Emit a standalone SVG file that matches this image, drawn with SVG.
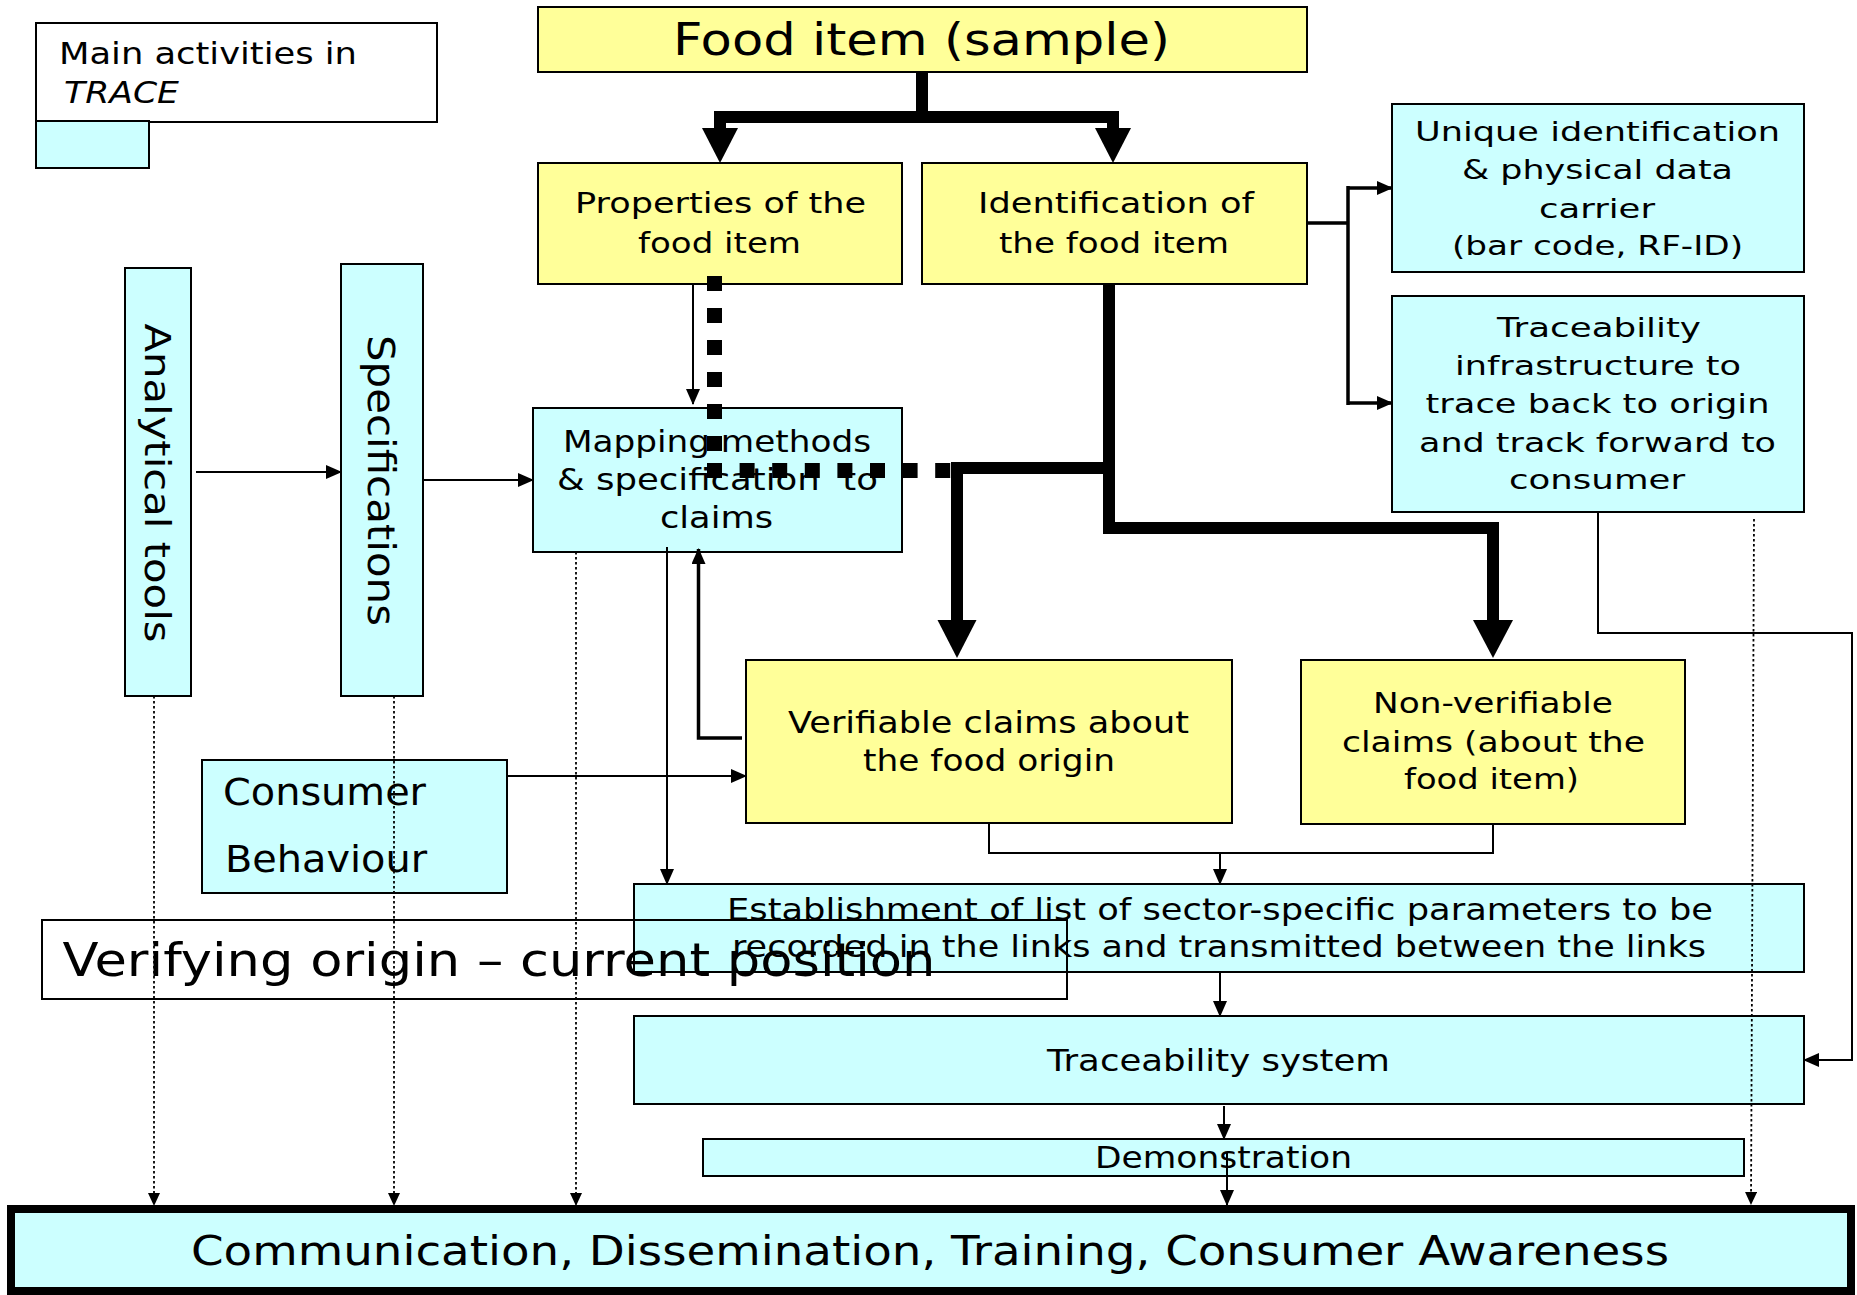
<svg xmlns="http://www.w3.org/2000/svg" width="1857" height="1295" viewBox="0 0 1857 1295">
<style>
.y{fill:#FFFF99;stroke:#000;stroke-width:2}
.c{fill:#CCFFFF;stroke:#000;stroke-width:2}
.w{fill:#fff;stroke:#000;stroke-width:2}
.n{fill:none;stroke:#000;stroke-width:2}
text{font-family:"DejaVu Sans","Liberation Sans",sans-serif;fill:#000}
.m{text-anchor:middle}
.ln{fill:none;stroke:#000;stroke-width:2}
.lb{fill:none;stroke:#000;stroke-width:3.5}
.th{fill:none;stroke:#000;stroke-width:12;stroke-linejoin:miter}
.dt{fill:none;stroke:#000;stroke-width:1.8;stroke-dasharray:2.5 2.5}
.sq{fill:none;stroke:#000;stroke-width:15}
</style>
<defs>
<marker id="a" markerUnits="userSpaceOnUse" markerWidth="16" markerHeight="14" refX="15" refY="7" orient="auto"><path d="M0,0L16,7L0,14z"/></marker>
<marker id="ad" markerUnits="userSpaceOnUse" markerWidth="13" markerHeight="12" refX="12" refY="6" orient="auto"><path d="M0,0L13,6L0,12z"/></marker>
</defs>

<g id="legend">
<rect class="w" x="36" y="23" width="401" height="99"/>
<rect class="c" x="36" y="121" width="113" height="47"/>
<text x="59" y="64" font-size="30" textLength="298" lengthAdjust="spacingAndGlyphs">Main activities in</text>
<text x="64" y="103" font-size="30" font-style="italic" textLength="115" lengthAdjust="spacingAndGlyphs">TRACE</text>
</g>

<g id="food">
<rect class="y" x="538" y="7" width="769" height="65"/>
<text class="m" x="921.5" y="55" font-size="44" textLength="497" lengthAdjust="spacingAndGlyphs">Food item (sample)</text>
</g>

<g id="properties">
<rect class="y" x="538" y="163" width="364" height="121"/>
<text class="m" x="720.5" y="213" font-size="28.5" textLength="291" lengthAdjust="spacingAndGlyphs">Properties of the</text>
<text class="m" x="719.5" y="253" font-size="28.5" textLength="163" lengthAdjust="spacingAndGlyphs">food item</text>
</g>

<g id="identification">
<rect class="y" x="922" y="163" width="385" height="121"/>
<text class="m" x="1116" y="213" font-size="28.5" textLength="276" lengthAdjust="spacingAndGlyphs">Identification of</text>
<text class="m" x="1114" y="253" font-size="28.5" textLength="230" lengthAdjust="spacingAndGlyphs">the food item</text>
</g>

<g id="unique">
<rect class="c" x="1392" y="104" width="412" height="168"/>
<text class="m" x="1597.5" y="141" font-size="27" textLength="365" lengthAdjust="spacingAndGlyphs">Unique identification</text>
<text class="m" x="1597.5" y="179" font-size="27" textLength="271" lengthAdjust="spacingAndGlyphs">&amp; physical data</text>
<text class="m" x="1597" y="218" font-size="27" textLength="116" lengthAdjust="spacingAndGlyphs">carrier</text>
<text class="m" x="1597.5" y="255" font-size="27" textLength="291" lengthAdjust="spacingAndGlyphs">(bar code, RF-ID)</text>
</g>

<g id="infrastructure">
<rect class="c" x="1392" y="296" width="412" height="216"/>
<text class="m" x="1599" y="337" font-size="27" textLength="204" lengthAdjust="spacingAndGlyphs">Traceability</text>
<text class="m" x="1598" y="375" font-size="27" textLength="286" lengthAdjust="spacingAndGlyphs">infrastructure to</text>
<text class="m" x="1597.5" y="413" font-size="27" textLength="344" lengthAdjust="spacingAndGlyphs">trace back to origin</text>
<text class="m" x="1597.5" y="452" font-size="27" textLength="357" lengthAdjust="spacingAndGlyphs">and track forward to</text>
<text class="m" x="1597" y="489" font-size="27" textLength="176" lengthAdjust="spacingAndGlyphs">consumer</text>
</g>

<g id="analytical">
<rect class="c" x="125" y="268" width="66" height="428"/>
<text class="m" transform="translate(145,483) rotate(90)" x="0" y="0" font-size="36" textLength="319" lengthAdjust="spacingAndGlyphs">Analytical tools</text>
</g>

<g id="specifications">
<rect class="c" x="341" y="264" width="82" height="432"/>
<text class="m" transform="translate(368,480.5) rotate(90)" x="0" y="0" font-size="37" textLength="291" lengthAdjust="spacingAndGlyphs">Specifications</text>
</g>

<g id="mapping">
<rect class="c" x="533" y="408" width="369" height="144"/>
<text class="m" x="717" y="452" font-size="29.5" textLength="308" lengthAdjust="spacingAndGlyphs">Mapping methods</text>
<text class="m" x="717.5" y="490" font-size="29.5" textLength="321" lengthAdjust="spacingAndGlyphs" style="white-space:pre">&amp; specification  to</text>
<text class="m" x="716.5" y="528" font-size="29.5" textLength="113" lengthAdjust="spacingAndGlyphs">claims</text>
</g>

<g id="verifiable">
<rect class="y" x="746" y="660" width="486" height="163"/>
<text class="m" x="988.5" y="733" font-size="29.5" textLength="401" lengthAdjust="spacingAndGlyphs">Verifiable claims about</text>
<text class="m" x="989" y="771" font-size="29.5" textLength="252" lengthAdjust="spacingAndGlyphs">the food origin</text>
</g>

<g id="nonverifiable">
<rect class="y" x="1301" y="660" width="384" height="164"/>
<text class="m" x="1493" y="713" font-size="29" textLength="240" lengthAdjust="spacingAndGlyphs">Non-verifiable</text>
<text class="m" x="1493.5" y="752" font-size="29" textLength="303" lengthAdjust="spacingAndGlyphs">claims (about the</text>
<text class="m" x="1491.5" y="789" font-size="29" textLength="175" lengthAdjust="spacingAndGlyphs">food item)</text>
</g>

<g id="consumer">
<rect class="c" x="202" y="760" width="305" height="133"/>
<text x="223" y="805" font-size="38" textLength="203" lengthAdjust="spacingAndGlyphs">Consumer</text>
<text x="225" y="872" font-size="38" textLength="202" lengthAdjust="spacingAndGlyphs">Behaviour</text>
</g>

<g id="establishment">
<rect class="c" x="634" y="884" width="1170" height="88"/>
<text class="m" x="1220" y="920" font-size="29.5" textLength="986" lengthAdjust="spacingAndGlyphs">Establishment of list of sector-specific parameters to be</text>
<text class="m" x="1219" y="957" font-size="29.5" textLength="974" lengthAdjust="spacingAndGlyphs">recorded in the links and transmitted between the links</text>
</g>

<g id="verifying">
<rect class="n" x="42" y="920" width="1025" height="79"/>
<text x="62.5" y="976" font-size="45.5" textLength="873" lengthAdjust="spacingAndGlyphs">Verifying origin – current position</text>
</g>

<g id="tracesystem">
<rect class="c" x="634" y="1016" width="1170" height="88"/>
<text class="m" x="1218.5" y="1071" font-size="30" textLength="343" lengthAdjust="spacingAndGlyphs">Traceability system</text>
</g>

<g id="demonstration">
<rect class="c" x="703" y="1139" width="1041" height="37"/>
<text class="m" x="1223.5" y="1168" font-size="29.5" textLength="257" lengthAdjust="spacingAndGlyphs">Demonstration</text>
</g>

<g id="communication">
<rect x="11" y="1209" width="1840" height="82" fill="#CCFFFF" stroke="#000" stroke-width="8"/>
<text class="m" x="930" y="1265" font-size="41" textLength="1478" lengthAdjust="spacingAndGlyphs">Communication, Dissemination, Training, Consumer Awareness</text>
</g>

<g id="connectors">
<path class="th" d="M922,72V117M720,130V117H1113V130"/>
<polygon points="702,128 738,128 720,163"/>
<polygon points="1095,128 1131,128 1113,163"/>
<path class="th" d="M1109,284V528H1493V622M1109,468H957V622"/>
<polygon points="937.5,620 976.5,620 957,658"/>
<polygon points="1473,620 1513,620 1493,658"/>
<path class="sq" d="M714.5,276V452" stroke-dasharray="15 17"/>
<path class="sq" d="M707,470.5H951" stroke-dasharray="15 17.6"/>
<path class="ln" d="M196,472H341" marker-end="url(#a)"/>
<path class="ln" d="M423,480H533" marker-end="url(#a)"/>
<path class="ln" d="M693,284V404" marker-end="url(#a)"/>
<path class="lb" d="M1307,223H1348M1348,186V405"/>
<path class="lb" d="M1348,188H1392" marker-end="url(#a)"/>
<path class="lb" d="M1348,403H1392" marker-end="url(#a)"/>
<path class="lb" d="M742,738H698.5V549" marker-end="url(#a)"/>
<path class="ln" d="M507,776H746" marker-end="url(#a)"/>
<path class="ln" d="M667,547V884" marker-end="url(#a)"/>
<path class="ln" d="M989,824V853H1493V824"/>
<path class="ln" d="M1220,853V884" marker-end="url(#a)"/>
<path class="ln" d="M1220,972V1016" marker-end="url(#a)"/>
<path class="ln" d="M1598,512V633H1852V1060H1804" marker-end="url(#a)"/>
<path class="ln" d="M1224,1106V1139" marker-end="url(#a)"/>
<path class="ln" d="M1227,1152V1205" marker-end="url(#a)"/>
<path class="dt" d="M154,696V1205" marker-end="url(#ad)"/>
<path class="dt" d="M394,696V1205" marker-end="url(#ad)"/>
<path class="dt" d="M576,552V1205" marker-end="url(#ad)"/>
<path class="dt" d="M1754,519L1751,1204" marker-end="url(#ad)"/>
</g>
</svg>
